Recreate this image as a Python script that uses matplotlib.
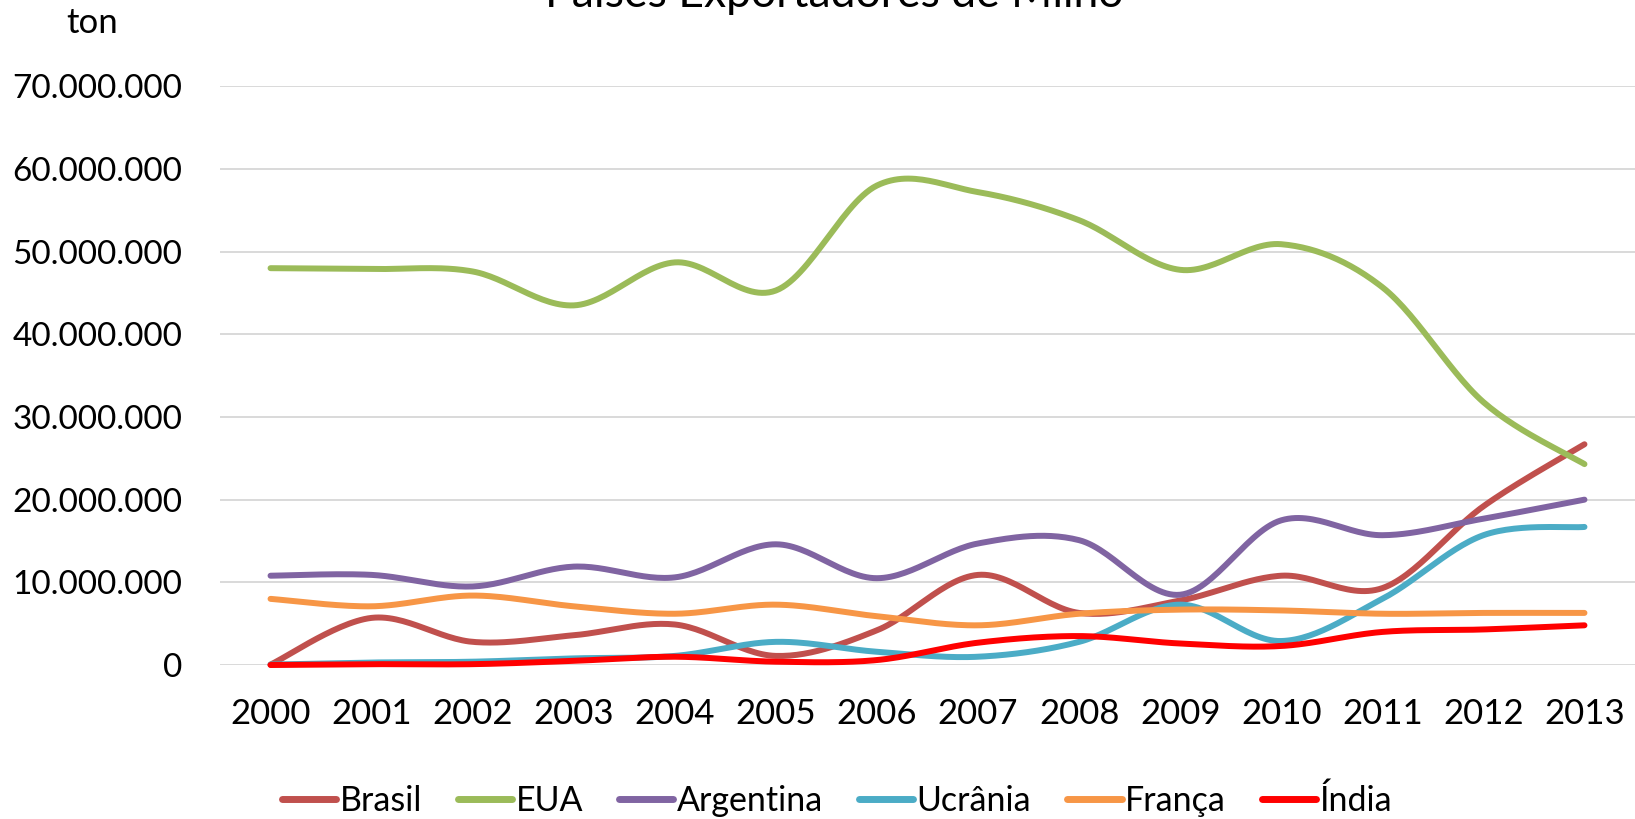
import numpy as np
import matplotlib
matplotlib.use("Agg")
import matplotlib.pyplot as plt
from matplotlib.ticker import FuncFormatter

years = [str(y) for y in range(2000, 2014)]
brasil = [0.05, 5.7, 2.8, 3.6, 4.9, 1.1, 4.2, 10.9, 6.3, 7.8, 10.8, 9.3, 19.2, 26.7]
eua = [48.0, 47.9, 47.6, 43.5, 48.7, 45.3, 58.0, 57.2, 53.8, 47.8, 50.9, 45.7, 31.8, 24.3]
argentina = [10.8, 10.9, 9.5, 11.9, 10.6, 14.6, 10.5, 14.7, 15.1, 8.5, 17.5, 15.7, 17.7, 20.0]
ucrania = [0.05, 0.3, 0.4, 0.8, 1.1, 2.8, 1.6, 1.0, 2.8, 7.3, 2.9, 8.0, 15.7, 16.7]
franca = [8.0, 7.1, 8.4, 7.1, 6.2, 7.3, 5.9, 4.8, 6.2, 6.7, 6.6, 6.2, 6.3, 6.3]
india = [0.0, 0.1, 0.1, 0.5, 1.0, 0.4, 0.6, 2.7, 3.5, 2.6, 2.3, 4.0, 4.3, 4.8]

series = [
    ("Brasil", brasil, "#C0504D"),
    ("EUA", eua, "#9BBB59"),
    ("Argentina", argentina, "#8064A2"),
    ("Ucrânia", ucrania, "#4BACC6"),
    ("França", franca, "#F79646"),
    ("Índia", india, "#FF0000"),
]

plt.rcParams['font.family'] = ['Lato', 'DejaVu Sans']


def smooth(x, y, n=30):
    x = np.asarray(x, float)
    y = np.asarray(y, float)
    px = np.concatenate([[x[0]], x, [x[-1]]])
    py = np.concatenate([[y[0]], y, [y[-1]]])
    xs, ys = [], []
    t = np.linspace(0, 1, n)
    for i in range(1, len(px) - 2):
        p0x, p1x, p2x, p3x = px[i - 1], px[i], px[i + 1], px[i + 2]
        p0y, p1y, p2y, p3y = py[i - 1], py[i], py[i + 1], py[i + 2]
        c1x = p1x + (p2x - p0x) / 6
        c1y = p1y + (p2y - p0y) / 6
        c2x = p2x - (p3x - p1x) / 6
        c2y = p2y - (p3y - p1y) / 6
        bx = (1 - t) ** 3 * p1x + 3 * (1 - t) ** 2 * t * c1x + 3 * (1 - t) * t ** 2 * c2x + t ** 3 * p2x
        by = (1 - t) ** 3 * p1y + 3 * (1 - t) ** 2 * t * c1y + 3 * (1 - t) * t ** 2 * c2y + t ** 3 * p2y
        xs.append(bx)
        ys.append(by)
    return np.concatenate(xs), np.concatenate(ys)


W, H = 1635, 819
fig = plt.figure(figsize=(W / 100, H / 100), dpi=100)
left, right = 220, 1635
bottom, top = 665, 86.3
ax = fig.add_axes([left / W, 1 - bottom / H, (right - left) / W, (bottom - top) / H])

xpos = np.arange(len(years))
for name, vals, col in series:
    sx, sy = smooth(xpos, np.array(vals) * 1e6)
    ax.plot(sx, sy, color=col, lw=4.3, label=name, solid_capstyle='round', clip_on=False)

ax.set_xlim(-0.5, len(years) - 0.5)
ax.set_ylim(0, 70e6)
ax.set_yticks(np.arange(0, 70e6 + 1, 10e6))
ax.yaxis.set_major_formatter(FuncFormatter(lambda v, p: f"{int(round(v)):,}".replace(",", ".")))
ax.set_xticks(xpos)
ax.set_xticklabels(years)
ax.grid(axis='y', color='#D9D9D9', lw=1.4)
ax.set_axisbelow(True)
for s in ax.spines.values():
    s.set_visible(False)
ax.tick_params(axis='y', length=0, labelsize=24, pad=27)
ax.tick_params(axis='x', length=0, labelsize=25, pad=24)

fig.text(834 / W, 1 - 7 / H, "Países Exportadores de Milho", ha='center', va='baseline', fontsize=32)
fig.text(92 / W, 1 - 23 / H, "ton", ha='center', va='center', fontsize=25)

leg = fig.legend(loc='center', bbox_to_anchor=(837 / W, 1 - 801 / H), ncol=6, frameon=False,
                 fontsize=24.5, handlelength=1.6, handletextpad=0.1, columnspacing=1.05)
for h in leg.get_lines():
    h.set_linewidth(5)

fig.savefig("out.png", dpi=100)
